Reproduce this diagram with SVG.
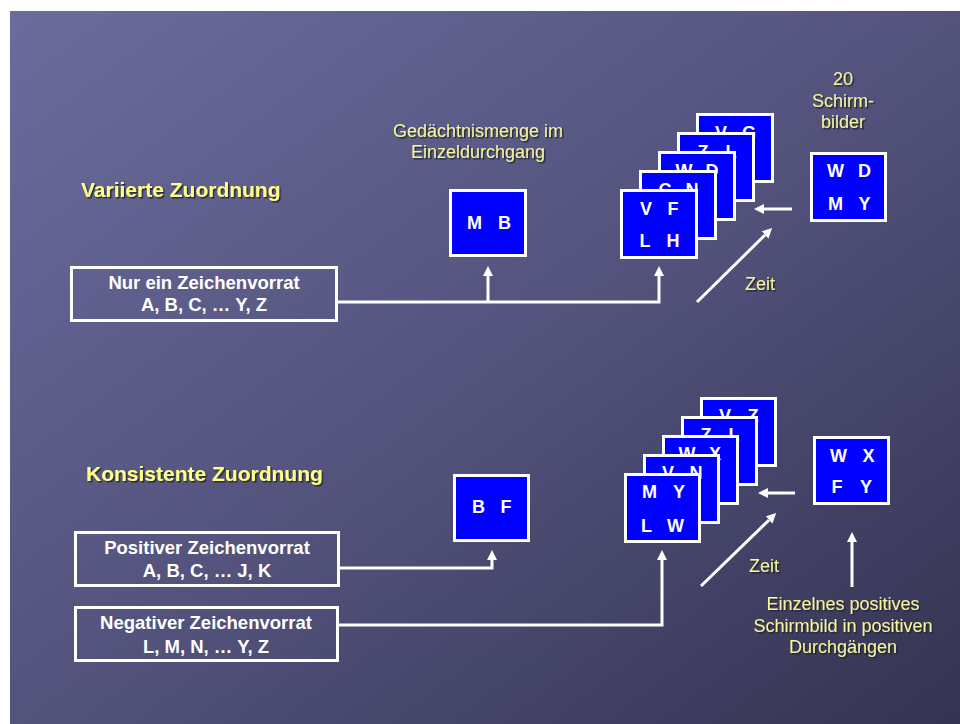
<svg xmlns="http://www.w3.org/2000/svg" width="960" height="724" viewBox="0 0 960 724">
<defs>
<linearGradient id="bg" x1="0" y1="0" x2="1" y2="1">
<stop offset="0" stop-color="#6a6c9c"/>
<stop offset="0.5" stop-color="#53537d"/>
<stop offset="1" stop-color="#343352"/>
</linearGradient>
<filter id="sh" x="-10%" y="-20%" width="130%" height="150%">
<feDropShadow dx="1.5" dy="1.5" stdDeviation="0.6" flood-color="#1a1a2e" flood-opacity="0.85"/>
</filter>
<marker id="ah" markerUnits="userSpaceOnUse" markerWidth="12" markerHeight="12" refX="0" refY="5" orient="auto">
<path d="M0,0 L10,5 L0,10 Z" fill="#fff"/>
</marker>
<style>
.title{font-family:"Liberation Sans",Arial,sans-serif;font-weight:bold;font-size:21px;fill:#ffff88}
.note{font-family:"Liberation Sans",Arial,sans-serif;font-size:18px;fill:#f4f49c;text-anchor:middle}
.box{fill:none;stroke:#fff;stroke-width:3}
.boxt{font-family:"Liberation Sans",Arial,sans-serif;font-weight:bold;font-size:18.5px;fill:#fff;text-anchor:middle}
.card{fill:#0000ff;stroke:#fff;stroke-width:3}
.lt{font-family:"Liberation Sans",Arial,sans-serif;font-weight:bold;font-size:18px;fill:#fff;text-anchor:middle}
.ln{fill:none;stroke:#fff;stroke-width:3}
</style>
</defs>
<rect x="0" y="0" width="960" height="724" fill="#fff"/>
<rect x="10" y="11" width="950" height="713" fill="url(#bg)"/>

<g id="title-top"><text class="title" x="81" y="197" filter="url(#sh)">Variierte Zuordnung</text></g>
<g id="title-bottom"><text class="title" x="86" y="481" filter="url(#sh)">Konsistente Zuordnung</text></g>

<g id="label-memory"><text class="note" filter="url(#sh)"><tspan x="478" y="137">Gedächtnismenge im</tspan><tspan x="478" y="158">Einzeldurchgang</tspan></text></g>
<g id="label-20"><text class="note" filter="url(#sh)"><tspan x="843" y="85">20</tspan><tspan x="843" y="107">Schirm-</tspan><tspan x="843" y="128">bilder</tspan></text></g>
<g id="label-zeit-top"><text class="note" x="760" y="290" filter="url(#sh)">Zeit</text></g>
<g id="label-zeit-bottom"><text class="note" x="764" y="572" filter="url(#sh)">Zeit</text></g>
<g id="label-single"><text class="note" filter="url(#sh)"><tspan x="843" y="610">Einzelnes positives</tspan><tspan x="843" y="632">Schirmbild in positiven</tspan><tspan x="843" y="653">Durchgängen</tspan></text></g>

<g id="box-nur">
<rect class="box" x="71.5" y="267.5" width="265" height="53"/>
<text class="boxt"><tspan x="204" y="289">Nur ein Zeichenvorrat</tspan><tspan x="204" y="311">A, B, C, … Y, Z</tspan></text>
</g>
<g id="box-positiv">
<rect class="box" x="75.5" y="532.5" width="263" height="53"/>
<text class="boxt"><tspan x="207" y="554">Positiver Zeichenvorrat</tspan><tspan x="207" y="577">A, B, C, … J, K</tspan></text>
</g>
<g id="box-negativ">
<rect class="box" x="75.5" y="607.5" width="262" height="53"/>
<text class="boxt"><tspan x="206" y="629">Negativer Zeichenvorrat</tspan><tspan x="206" y="653">L, M, N, … Y, Z</tspan></text>
</g>

<g id="memory-top">
<rect class="card" x="450.5" y="190.5" width="75" height="65"/>
<text class="lt" y="229"><tspan x="474.5">M</tspan><tspan x="504.5">B</tspan></text>
</g>
<g id="memory-bottom">
<rect class="card" x="454.5" y="475.5" width="74" height="65"/>
<text class="lt" y="513"><tspan x="478.5">B</tspan><tspan x="506">F</tspan></text>
</g>

<g id="stack-top">
<rect class="card" x="697.5" y="114.5" width="75" height="67"/>
<text class="lt" y="139"><tspan x="721">V</tspan><tspan x="749">G</tspan></text>
<rect class="card" x="678.5" y="133.5" width="75" height="67"/>
<text class="lt" y="158"><tspan x="703">Z</tspan><tspan x="731">L</tspan></text>
<rect class="card" x="659.5" y="152.5" width="75" height="67"/>
<text class="lt" y="177"><tspan x="684">W</tspan><tspan x="712">D</tspan></text>
<rect class="card" x="640.5" y="171.5" width="75" height="67"/>
<text class="lt" y="196"><tspan x="665">C</tspan><tspan x="692">N</tspan></text>
<rect class="card" x="621.5" y="190.5" width="75" height="67"/>
<text class="lt" y="215"><tspan x="646">V</tspan><tspan x="673">F</tspan></text>
<text class="lt" y="247"><tspan x="645">L</tspan><tspan x="673">H</tspan></text>
</g>

<g id="screen-top">
<rect class="card" x="811.5" y="153.5" width="74" height="67"/>
<text class="lt" y="177"><tspan x="835.5">W</tspan><tspan x="864.5">D</tspan></text>
<text class="lt" y="210"><tspan x="835.5">M</tspan><tspan x="864.5">Y</tspan></text>
</g>

<g id="stack-bottom">
<rect class="card" x="701.5" y="398.5" width="74" height="67"/>
<text class="lt" y="422"><tspan x="725">V</tspan><tspan x="753">Z</tspan></text>
<rect class="card" x="682.5" y="417.5" width="74" height="67"/>
<text class="lt" y="441"><tspan x="706">Z</tspan><tspan x="734">L</tspan></text>
<rect class="card" x="663.5" y="436.5" width="74" height="67"/>
<text class="lt" y="460"><tspan x="687">W</tspan><tspan x="715">X</tspan></text>
<rect class="card" x="644.5" y="455.5" width="74" height="67"/>
<text class="lt" y="479"><tspan x="668">V</tspan><tspan x="696">N</tspan></text>
<rect class="card" x="625.5" y="474.5" width="74" height="67"/>
<text class="lt" y="498"><tspan x="649.5">M</tspan><tspan x="679">Y</tspan></text>
<text class="lt" y="532"><tspan x="646.5">L</tspan><tspan x="675.5">W</tspan></text>
</g>

<g id="screen-bottom">
<rect class="card" x="814.5" y="437.5" width="74" height="66"/>
<text class="lt" y="462"><tspan x="838.5">W</tspan><tspan x="868.5">X</tspan></text>
<text class="lt" y="493"><tspan x="837">F</tspan><tspan x="866">Y</tspan></text>
</g>

<g id="connectors">
<path class="ln" d="M338,302 H659 V276" marker-end="url(#ah)"/>
<path class="ln" d="M488,302 V276" marker-end="url(#ah)"/>
<path class="ln" d="M792,209 H764" marker-end="url(#ah)"/>
<path class="ln" d="M697,302 L765,235" marker-end="url(#ah)"/>
<path class="ln" d="M340,568 H492 V560" marker-end="url(#ah)"/>
<path class="ln" d="M338,625 H662 V560" marker-end="url(#ah)"/>
<path class="ln" d="M795,493 H768" marker-end="url(#ah)"/>
<path class="ln" d="M701,586 L769,520" marker-end="url(#ah)"/>
<path class="ln" d="M852,587 V542" marker-end="url(#ah)"/>
</g>
</svg>
